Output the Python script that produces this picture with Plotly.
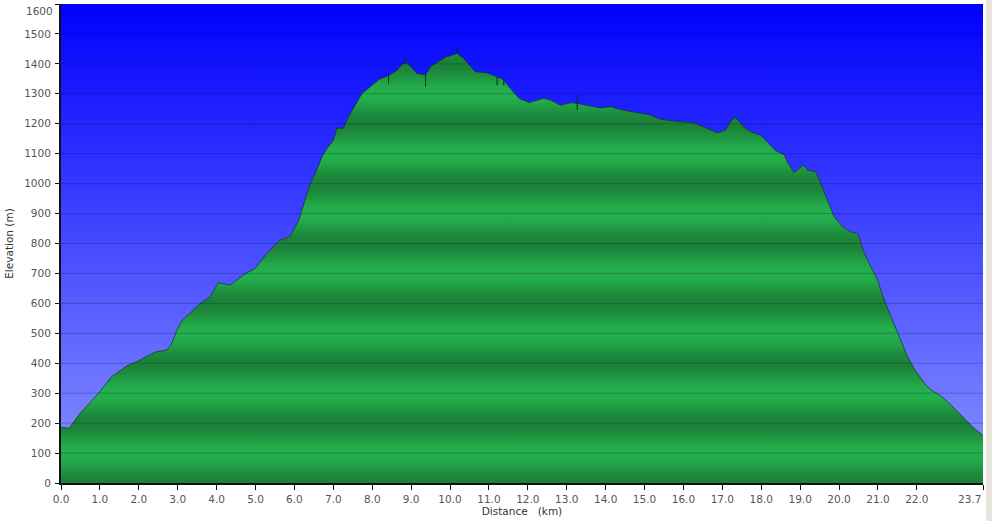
import math
import plotly.graph_objects as go

# ---- data ----
distance_km = [
    0.00, 0.13, 0.21, 0.49, 0.83, 1.00, 1.30, 1.52, 1.69, 1.99, 2.21, 2.46, 2.72, 2.85, 2.98,
    3.11, 3.32, 3.58, 3.83, 4.05, 4.35, 4.69, 4.99, 5.29, 5.64, 5.89, 6.11, 6.24, 6.41, 6.54,
    6.71, 6.84, 7.01, 7.09, 7.26, 7.39, 7.57, 7.74, 7.95, 8.17, 8.38, 8.42, 8.42, 8.42, 8.64,
    8.77, 8.83, 8.83, 8.83, 8.88, 8.98, 9.15, 9.37, 9.37, 9.37, 9.50, 9.67, 9.88, 10.14, 10.18,
    10.18, 10.18, 10.35, 10.65, 10.95, 11.17, 11.21, 11.21, 11.21, 11.38, 11.38, 11.38, 11.55, 11.77, 12.03,
    12.41, 12.58, 12.84, 13.10, 13.27, 13.27, 13.27, 13.27, 13.61, 13.87, 14.13, 14.43, 14.81, 15.11, 15.41,
    15.76, 16.27, 16.62, 16.87, 17.09, 17.21, 17.30, 17.39, 17.56, 17.77, 17.99, 18.16, 18.37, 18.59, 18.67,
    18.84, 19.09, 19.19, 19.40, 19.53, 19.70, 19.87, 20.09, 20.30, 20.49, 20.60, 20.77, 20.99, 21.16, 21.38,
    21.59, 21.76, 21.93, 22.19, 22.36, 22.58, 22.79, 23.05, 23.31, 23.47, 23.65, 23.70,
]
elevation_m = [
    186, 183, 183, 233, 283, 305, 355, 375, 391, 408, 424, 439, 444, 467, 511,
    542, 567, 600, 622, 669, 661, 695, 717, 767, 812, 823, 878, 934, 1001, 1035,
    1090, 1118, 1146, 1185, 1185, 1223, 1262, 1302, 1324, 1348, 1359, 1361, 1334, 1361, 1379,
    1399, 1402, 1424, 1402, 1404, 1393, 1368, 1363, 1324, 1363, 1391, 1404, 1422, 1433, 1435,
    1457, 1435, 1418, 1374, 1370, 1359, 1357, 1329, 1357, 1346, 1328, 1346, 1318, 1285, 1271,
    1285, 1279, 1262, 1270, 1268, 1296, 1246, 1268, 1259, 1253, 1257, 1246, 1237, 1231, 1215,
    1209, 1203, 1185, 1170, 1179, 1207, 1221, 1215, 1188, 1171, 1162, 1140, 1110, 1096, 1073,
    1037, 1062, 1045, 1040, 1001, 945, 890, 856, 839, 832, 784, 734, 678, 611, 544,
    478, 422, 383, 333, 311, 294, 272, 238, 205, 183, 164, 158,
]

x_tick_values = [0, 1, 2, 3, 4, 5, 6, 7, 8, 9, 10, 11, 12, 13, 14, 15, 16, 17, 18, 19, 20, 21, 22, 23.7]
x_tick_labels = ["0.0", "1.0", "2.0", "3.0", "4.0", "5.0", "6.0", "7.0", "8.0", "9.0", "10.0",
                 "11.0", "12.0", "13.0", "14.0", "15.0", "16.0", "17.0", "18.0", "19.0", "20.0",
                 "21.0", "22.0", "23.7"]
y_tick_values = list(range(0, 1601, 100))
y_tick_labels = [str(v) for v in y_tick_values]

x_max = 23.7
y_max = 1600

# ---- styles ----
def lerp(c1, c2, t):
    return "rgb(%d,%d,%d)" % tuple(round(a + (b - a) * t) for a, b in zip(c1, c2))

dark_green = (27, 130, 56)
bright_green = (36, 176, 78)
green_scale = []
steps = 160
for i in range(steps + 1):
    v = i / steps * y_max
    t = (1 - math.cos(math.pi * v / 100.0)) / 2.0
    green_scale.append([i / steps, lerp(dark_green, bright_green, t)])

blue_scale = [[0.0, "rgb(138,148,255)"], [1.0, "rgb(0,0,255)"]]

# edge labels are drawn as annotations so they stay inside the page, as in the original
x_tick_text = x_tick_labels[:-1] + [""]
y_tick_text = y_tick_labels[:-1] + [""]

fig = go.Figure()

# blue sky background across the whole plot area
fig.add_trace(go.Scatter(
    x=[0, x_max], y=[y_max, y_max], mode="lines", line=dict(width=0),
    fill="tozeroy",
    fillgradient=dict(type="vertical", start=0, stop=y_max, colorscale=blue_scale),
    hoverinfo="skip", showlegend=False,
))

# elevation profile
fig.add_trace(go.Scatter(
    x=distance_km, y=elevation_m, mode="lines",
    line=dict(color="rgba(10,50,20,0.65)", width=1),
    fill="tozeroy",
    fillgradient=dict(type="vertical", start=0, stop=y_max, colorscale=green_scale),
    showlegend=False,
))

# gridlines drawn above the fills
for yv in y_tick_values[1:-1]:
    fig.add_shape(type="line", xref="paper", x0=0, x1=1, yref="y", y0=yv, y1=yv,
                  line=dict(color="rgba(0,0,40,0.22)", width=1), layer="above")

# light window border strip on the right
fig.add_shape(type="rect", xref="paper", yref="paper", x0=1.0035, x1=1.02, y0=-0.2, y1=1.02,
              fillcolor="#e6e3da", line=dict(width=0), layer="below")

font_family = "DejaVu Sans, Verdana, sans-serif"
tick_font = dict(family=font_family, size=10.5, color="#555")

fig.add_annotation(
    text=y_tick_labels[-1], xref="paper", x=0, yref="y", y=y_tick_values[-1],
    xanchor="right", yanchor="top", xshift=-6, yshift=1, showarrow=False, font=tick_font,
)
fig.add_annotation(
    text=x_tick_labels[-1], xref="x", x=x_tick_values[-1], yref="paper", y=0,
    xanchor="right", yanchor="top", xshift=0, yshift=-8, showarrow=False, font=tick_font,
)

fig.update_layout(
    width=992, height=521,
    margin=dict(l=61, r=9, t=4, b=38, autoexpand=False),
    paper_bgcolor="white", plot_bgcolor="white",
    font=dict(family=font_family, size=10, color="#444"),
    xaxis=dict(
        range=[0, x_max], tickmode="array", tickvals=x_tick_values, ticktext=x_tick_text,
        showgrid=False, zeroline=False, showline=True, linecolor="#111", linewidth=2,
        ticks="outside", ticklen=5, tickcolor="#111", tickwidth=1,
        tickfont=tick_font, ticklabeloverflow="allow", automargin=False,
        title=dict(text="Distance\u00a0\u00a0 (km)", standoff=4, font=dict(size=10.5, color="#333")),
    ),
    yaxis=dict(
        range=[0, y_max], tickmode="array", tickvals=y_tick_values, ticktext=y_tick_text,
        showgrid=False, zeroline=False, showline=True, linecolor="#111", linewidth=2,
        ticks="outside", ticklen=4, tickcolor="#111", tickwidth=1, ticklabelstandoff=2,
        tickfont=tick_font, ticklabeloverflow="allow", automargin=False,
        title=dict(text="Elevation (m)", standoff=8, font=dict(size=10.5, color="#333")),
    ),
)

fig.write_html(
    "out.html",
    config={"displayModeBar": False},
    post_script="document.body.style.margin='0';document.body.style.overflow='hidden';",
)
